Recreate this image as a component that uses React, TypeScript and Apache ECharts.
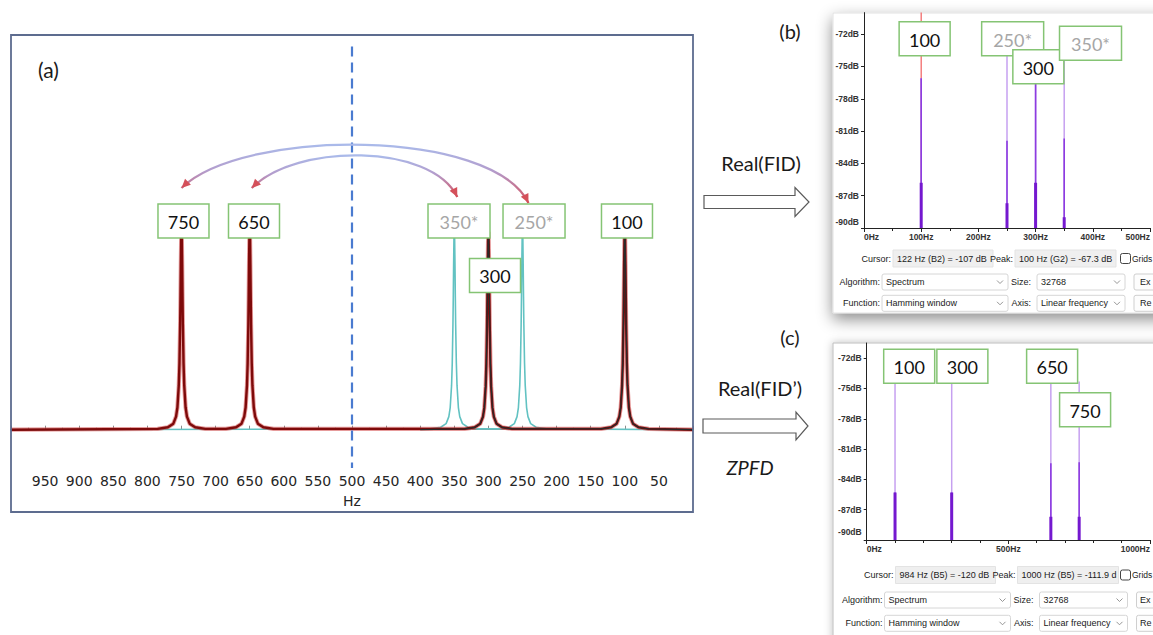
import React, { useEffect, useRef } from 'react';
import * as echarts from 'echarts';

// ---------------- Panel (a): simulated spectra ----------------
// Lorentzian-like line shape (offset in Hz, relative height)
const PROFILE_OFFSET_HZ = [-35, -20, -12, -8, -6, -4, -3, -2, -1.5, -1, -0.5, 0, 0.5, 1, 1.5, 2, 3, 4, 6, 8, 12, 20, 35];
const PROFILE_HEIGHT = [0.004, 0.012, 0.03, 0.065, 0.11, 0.22, 0.33, 0.52, 0.66, 0.82, 0.95, 1, 0.95, 0.82, 0.66, 0.52, 0.33, 0.22, 0.11, 0.065, 0.03, 0.012, 0.004];

const RED_PEAK_HZ = [100, 300, 650, 750];
const RED_PEAK_HEIGHT = [1.05, 1.033, 1.05, 1.05];
const BLACK_PEAK_HZ = [100, 300];
const BLACK_PEAK_HEIGHT = [1.05, 1.033];
const TEAL_PEAK_HZ = [250, 350];
const TEAL_PEAK_HEIGHT = [1.05, 1.05];
const CENTER_HZ = 500;

const A_LABEL_TEXT = ['750', '650', '350*', '250*', '100', '300'];
const A_LABEL_STAR = [false, false, true, true, false, false];
const FOLD_FROM_HZ = [250, 350];
const FOLD_TO_HZ = [750, 650];

// ---------------- Panel (b): spectrum of Real(FID) ----------------
const DB_TICKS = [-90, -87, -84, -81, -78, -75, -72];
const B_PEAK_HZ = [100, 250, 300, 350];
const B_LIGHT_TOP_DB = [-76.1, -73.5, -76.6, -73.5];
const B_DARK_TOP_DB = [-76.1, -81.9, -76.6, -81.7];
const B_THICK_TOP_DB = [-85.8, -87.7, -85.8, -89.0];
const B_CURSOR_HZ = 100;
const B_LABEL_TEXT = ['100', '250*', '300', '350*'];
const B_LABEL_STAR = [false, true, false, true];
const B_CURSOR_TEXT = '122 Hz (B2) = -107 dB';
const B_PEAK_TEXT = '100 Hz (G2) = -67.3 dB';

// ---------------- Panel (c): spectrum of Real(FID') ----------------
const C_PEAK_HZ = [100, 300, 650, 750];
const C_LIGHT_TOP_DB = [-74.3, -74.3, -74.3, -74.3];
const C_DARK_TOP_DB = [-85.3, -85.3, -82.4, -82.3];
const C_THICK_TOP_DB = [-85.3, -85.3, -87.7, -87.7];
const C_LABEL_TEXT = ['100', '300', '650', '750'];
const C_LABEL_STAR = [false, false, false, false];
const C_CURSOR_TEXT = '984 Hz (B5) = -120 dB';
const C_PEAK_TEXT = '1000 Hz (B5) = -111.9 dB';

// ---------------- layout (positions, not data) ----------------
const A_LABEL_POS = [[747.1, 1.089], [643.7, 1.089], [343.1, 1.089], [233.1, 1.089], [96.8, 1.089], [290.3, 0.805]];
const B_LABEL_POS = [[106, -72.43], [259.9, -72.43], [304.8, -75.03], [396, -72.85]];
const C_LABEL_POS = [[150, -72.81], [337.7, -72.81], [654.5, -72.81], [770.9, -77.11]];
const ARC_LAYOUT = [
  { toDx: 0, toY: 188, fromDx: 6, fromY: 203, c1: [62, 128], c2: [-36, 128] },
  { toDx: 2, toY: 188, fromDx: 3, fromY: 197, c1: [44, 143], c2: [-26, 143] },
];

const FONT_CAL = 'Lato, "Open Sans", sans-serif';
const FONT_A = '"DejaVu Sans", Verdana, sans-serif';
const FONT_UI = '"Liberation Sans", Arial, sans-serif';
const GREEN = '#85c474';

function buildSpectrum(centers: number[], heights: number[], from: number, to: number) {
  const pts: number[][] = [[from, 0]];
  const order = centers.map((_, i) => i).sort((a, b) => centers[a] - centers[b]);
  for (const i of order) {
    PROFILE_OFFSET_HZ.forEach((o, k) => pts.push([centers[i] + o, heights[i] * PROFILE_HEIGHT[k]]));
  }
  pts.push([to, 0]);
  return pts;
}

function spikeRender(params: any, api: any) {
  const f = api.value(0);
  const base = api.coord([f, -90]);
  const mk = (v: number, stroke: string, w: number) => {
    const p = api.coord([f, v]);
    return { type: 'line', shape: { x1: base[0], y1: base[1], x2: p[0], y2: p[1] }, style: { stroke, lineWidth: w } };
  };
  return {
    type: 'group',
    children: [mk(api.value(1), '#c6a0f0', 1.5), mk(api.value(2), '#8d3ce0', 1.6), mk(api.value(3), '#7418cf', 3)],
  };
}

function cursorRender(params: any, api: any) {
  const f = api.value(0);
  const a = api.coord([f, api.value(1)]);
  const b = api.coord([f, -90]);
  return { type: 'line', shape: { x1: a[0], y1: a[1], x2: b[0], y2: b[1] }, style: { stroke: '#f26b6b', lineWidth: 1.3 } };
}

const uiAxisText = { fontFamily: FONT_UI, fontSize: 8.5, fontWeight: 'bold' as const, color: '#333' };

function dbAxis(gridIndex: number, max: number, lift: number) {
  return {
    gridIndex,
    type: 'value',
    min: -90,
    max,
    axisLine: { show: true, lineStyle: { color: '#222', width: 1 } },
    axisTick: { show: true, length: 3, customValues: DB_TICKS, lineStyle: { color: '#222' } },
    splitLine: { show: false },
    axisLabel: {
      ...uiAxisText,
      margin: 5,
      customValues: DB_TICKS,
      formatter: (v: number) => (v === DB_TICKS[0] ? `{lift|${v}dB}` : `${v}dB`),
      rich: { lift: { ...uiAxisText, padding: [0, 0, lift, 0] } },
    },
  };
}

function hzAxis(gridIndex: number, max: number, interval: number, minorSplit: number) {
  return {
    gridIndex,
    type: 'value',
    min: 0,
    max,
    interval,
    axisLine: { show: true, lineStyle: { color: '#222', width: 1 } },
    axisTick: { show: true, length: 4, lineStyle: { color: '#222' } },
    minorTick: { show: true, splitNumber: minorSplit, length: 3, lineStyle: { color: '#222' } },
    splitLine: { show: false },
    axisLabel: {
      ...uiAxisText,
      margin: 4,
      formatter: (v: number) => `${v}Hz`,
      alignMinLabel: 'left',
      alignMaxLabel: 'right',
    },
  };
}

function buildOption() {
  const axisTextA = { fontFamily: FONT_A, fontSize: 14, color: '#262626' };
  return {
    animation: false,
    backgroundColor: '#ffffff',
    grid: [
      { left: 11, top: 35, width: 682, height: 433 },
      { left: 864, top: 12.6, width: 291.5, height: 215.4 },
      { left: 866.7, top: 343, width: 292, height: 197 },
    ],
    xAxis: [
      {
        gridIndex: 0,
        type: 'value',
        min: 0,
        max: 1000,
        interval: 50,
        inverse: true,
        axisLine: { show: true, lineStyle: { color: '#8c8c8c', width: 1.2 } },
        axisTick: { show: true, inside: true, length: 4, lineStyle: { color: '#8c8c8c' } },
        minorTick: { show: true, splitNumber: 2, length: 2, lineStyle: { color: '#9a9a9a' } },
        splitLine: { show: false },
        axisLabel: { ...axisTextA, margin: 6, showMinLabel: false, showMaxLabel: false },
        name: 'Hz',
        nameLocation: 'middle',
        nameGap: 26,
        nameTextStyle: axisTextA,
      },
      hzAxis(1, 500, 100, 2),
      hzAxis(2, 1000, 500, 5),
    ],
    yAxis: [
      { gridIndex: 0, type: 'value', min: -0.2, max: 2.06, show: false },
      dbAxis(1, -70, 12),
      dbAxis(2, -70.5, 16),
    ],
    series: [
      {
        name: 'original', type: 'line', xAxisIndex: 0, yAxisIndex: 0, showSymbol: false, symbol: 'none', silent: true,
        data: buildSpectrum(TEAL_PEAK_HZ, TEAL_PEAK_HEIGHT, 0, 1000),
        lineStyle: { color: '#62c2c2', width: 1.6 },
      },
      {
        name: 'glow', type: 'line', xAxisIndex: 0, yAxisIndex: 0, showSymbol: false, symbol: 'none', silent: true,
        data: buildSpectrum(RED_PEAK_HZ, RED_PEAK_HEIGHT, 0, 1000),
        lineStyle: { color: '#d24848', width: 4.2, opacity: 0.55 },
      },
      {
        name: 'folded', type: 'line', xAxisIndex: 0, yAxisIndex: 0, showSymbol: false, symbol: 'none', silent: true,
        data: buildSpectrum(RED_PEAK_HZ, RED_PEAK_HEIGHT, 0, 1000),
        lineStyle: { color: '#7e0a0a', width: 2.4 },
        markLine: {
          silent: true,
          symbol: ['none', 'none'],
          label: { show: false },
          lineStyle: { color: '#4a7bd0', width: 2.2, type: [10, 6] },
          data: [[{ coord: [CENTER_HZ, 2.0] }, { coord: [CENTER_HZ, -0.2] }]],
        },
      },
      {
        name: 'measured', type: 'line', xAxisIndex: 0, yAxisIndex: 0, showSymbol: false, symbol: 'none', silent: true,
        data: buildSpectrum(BLACK_PEAK_HZ, BLACK_PEAK_HEIGHT, 0, 400),
        lineStyle: { color: '#2a2a2a', width: 1.2 },
      },
      {
        name: 'cursorB', type: 'custom', xAxisIndex: 1, yAxisIndex: 1, silent: true, z: 1,
        renderItem: cursorRender,
        data: [[B_CURSOR_HZ, -70]],
      },
      {
        name: 'spikesB', type: 'custom', xAxisIndex: 1, yAxisIndex: 1, silent: true,
        renderItem: spikeRender,
        data: B_PEAK_HZ.map((f, i) => [f, B_LIGHT_TOP_DB[i], B_DARK_TOP_DB[i], B_THICK_TOP_DB[i]]),
      },
      {
        name: 'spikesC', type: 'custom', xAxisIndex: 2, yAxisIndex: 2, silent: true,
        renderItem: spikeRender,
        data: C_PEAK_HZ.map((f, i) => [f, C_LIGHT_TOP_DB[i], C_DARK_TOP_DB[i], C_THICK_TOP_DB[i]]),
      },
    ],
  };
}

function txt(text: string, x: number, y: number, o: any = {}) {
  return {
    type: 'text',
    z: o.z ?? 60,
    style: {
      text,
      x,
      y,
      fill: o.fill ?? '#1a1a1a',
      fontSize: o.size ?? 9,
      fontFamily: o.family ?? FONT_UI,
      fontWeight: o.weight ?? 'normal',
      fontStyle: o.style ?? 'normal',
      align: o.align ?? 'left',
      textAlign: o.align ?? 'left',
      verticalAlign: 'middle',
      textVerticalAlign: 'middle',
      ...(o.width ? { width: o.width, overflow: 'truncate', ellipsis: '' } : {}),
    },
  };
}

function labelBox(cx: number, cy: number, text: string, star: boolean) {
  const w = star ? 62 : 51;
  const h = 34;
  return [
    {
      type: 'rect', z: 50,
      shape: { x: cx - w / 2, y: cy - h / 2, width: w, height: h },
      style: { fill: '#ffffff', stroke: GREEN, lineWidth: 1.5 },
    },
    txt(text, cx, cy + 1, { size: 18, family: FONT_CAL, fill: star ? '#a6a6a6' : '#111', align: 'center', z: 51 }),
  ];
}

function chevron(x: number, y: number) {
  return {
    type: 'polyline', z: 60,
    shape: { points: [[x - 3, y - 1.5], [x, y + 1.5], [x + 3, y - 1.5]] },
    style: { stroke: '#8a8a8a', lineWidth: 0.9, fill: 'none' },
  };
}

function dropdown(x: number, y: number, w: number, text: string) {
  return [
    { type: 'rect', z: 55, shape: { x, y: y - 8, width: w, height: 16, r: 2 }, style: { fill: '#ffffff', stroke: '#d6d6d6', lineWidth: 1 } },
    txt(text, x + 4, y),
    chevron(x + w - 8, y),
  ];
}

function uiPanel(dx: number, rowCur: number, rowAlg: number, rowFn: number, cursorText: string, peakText: string) {
  const X = (v: number) => v + dx;
  return [
    txt('Cursor:', X(891), rowCur, { align: 'right' }),
    { type: 'rect', z: 55, shape: { x: X(893), y: rowCur - 8.5, width: 100, height: 17 }, style: { fill: '#efefef', stroke: '#e3e3e3', lineWidth: 1 } },
    txt(cursorText, X(897), rowCur, { width: 94 }),
    txt('Peak:', X(1013), rowCur, { align: 'right' }),
    { type: 'rect', z: 55, shape: { x: X(1015), y: rowCur - 8.5, width: 101, height: 17 }, style: { fill: '#efefef', stroke: '#e3e3e3', lineWidth: 1 } },
    txt(peakText, X(1019), rowCur, { width: 96 }),
    { type: 'rect', z: 55, shape: { x: 1120.5, y: rowCur - 5, width: 10, height: 10, r: 2 }, style: { fill: '#ffffff', stroke: '#444', lineWidth: 1 } },
    txt('Grids', 1132, rowCur, { size: 8.5 }),
    txt('Algorithm:', X(880), rowAlg, { align: 'right' }),
    ...dropdown(X(882), rowAlg, 126, 'Spectrum'),
    txt('Size:', X(1031), rowAlg, { align: 'right' }),
    ...dropdown(X(1037), rowAlg, 88, '32768'),
    { type: 'rect', z: 55, shape: { x: X(1134), y: rowAlg - 8, width: 50, height: 16, r: 2 }, style: { fill: '#fdfdfd', stroke: '#cfcfcf', lineWidth: 1 } },
    txt('Ex', 1140, rowAlg),
    txt('Function:', X(880), rowFn, { align: 'right' }),
    ...dropdown(X(882), rowFn, 126, 'Hamming window'),
    txt('Axis:', X(1031), rowFn, { align: 'right' }),
    ...dropdown(X(1037), rowFn, 88, 'Linear frequency'),
    { type: 'rect', z: 55, shape: { x: X(1134), y: rowFn - 8, width: 50, height: 16, r: 2 }, style: { fill: '#fdfdfd', stroke: '#cfcfcf', lineWidth: 1 } },
    txt('Re', 1140, rowFn),
  ];
}

function hollowArrow(x0: number, x1: number, xh: number, yc: number, shaftHalf: number, headHalf: number) {
  return {
    type: 'polygon', z: 50,
    shape: {
      points: [
        [x0, yc - shaftHalf], [xh, yc - shaftHalf], [xh, yc - headHalf], [x1, yc],
        [xh, yc + headHalf], [xh, yc + shaftHalf], [x0, yc + shaftHalf],
      ],
    },
    style: { fill: '#ffffff', stroke: '#5a5a5a', lineWidth: 1.2 },
  };
}

function buildGraphics(chart: any) {
  const px = (g: number, x: number, y: number) => chart.convertToPixel({ xAxisIndex: g, yAxisIndex: g }, [x, y]) as number[];
  const els: any[] = [];

  // windows of the spectrum-analyser screenshots
  els.push({
    type: 'rect', z: -1,
    shape: { x: 833, y: 13, width: 340, height: 300 },
    style: { fill: '#ffffff', stroke: '#dadada', lineWidth: 0.8, shadowBlur: 16, shadowColor: 'rgba(0,0,0,0.45)', shadowOffsetY: 6 },
  });
  els.push({
    type: 'rect', z: -1,
    shape: { x: 833, y: 343, width: 340, height: 310 },
    style: { fill: '#ffffff', stroke: '#bdbdbd', lineWidth: 1, shadowBlur: 8, shadowColor: 'rgba(0,0,0,0.25)', shadowOffsetY: 0 },
  });

  // frame of panel (a)
  els.push({
    type: 'rect', z: 40,
    shape: { x: 11, y: 35, width: 682, height: 477 },
    style: { fill: 'none', stroke: '#5d6c8f', lineWidth: 1.8 },
  });
  els.push(txt('(a)', 48.5, 69, { size: 21, family: FONT_CAL, align: 'center' }));

  // folding arrows
  FOLD_TO_HZ.forEach((toHz, i) => {
    const L = ARC_LAYOUT[i];
    const p0 = [px(0, toHz, 0)[0] + L.toDx, L.toY];
    const p3 = [px(0, FOLD_FROM_HZ[i], 0)[0] + L.fromDx, L.fromY];
    const p1 = [p0[0] + L.c1[0], L.c1[1]];
    const p2 = [p3[0] + L.c2[0], L.c2[1]];
    els.push({
      type: 'bezierCurve', z: 45,
      shape: { x1: p0[0], y1: p0[1], cpx1: p1[0], cpy1: p1[1], cpx2: p2[0], cpy2: p2[1], x2: p3[0], y2: p3[1] },
      style: {
        fill: 'none',
        lineWidth: 2.3,
        stroke: new echarts.graphic.LinearGradient(0, 0, 0, 1, [
          { offset: 0, color: '#aabaea' },
          { offset: 0.45, color: '#b39ccc' },
          { offset: 1, color: '#d5505c' },
        ]),
      },
    });
    const head = (tip: number[], from: number[]) => {
      const dx = tip[0] - from[0];
      const dy = tip[1] - from[1];
      const len = Math.hypot(dx, dy);
      const ux = dx / len;
      const uy = dy / len;
      const bx = tip[0] - ux * 9;
      const by = tip[1] - uy * 9;
      return {
        type: 'polygon', z: 46,
        shape: { points: [[tip[0], tip[1]], [bx - uy * 4.2, by + ux * 4.2], [bx + uy * 4.2, by - ux * 4.2]] },
        style: { fill: '#d4505a' },
      };
    };
    els.push(head(p0, p1));
    els.push(head(p3, p2));
  });

  // label boxes
  A_LABEL_TEXT.forEach((t, i) => {
    const c = px(0, A_LABEL_POS[i][0], A_LABEL_POS[i][1]);
    els.push(...labelBox(c[0], c[1], t, A_LABEL_STAR[i]));
  });
  B_LABEL_TEXT.forEach((t, i) => {
    const c = px(1, B_LABEL_POS[i][0], B_LABEL_POS[i][1]);
    els.push(...labelBox(c[0], c[1], t, B_LABEL_STAR[i]));
  });
  C_LABEL_TEXT.forEach((t, i) => {
    const c = px(2, C_LABEL_POS[i][0], C_LABEL_POS[i][1]);
    els.push(...labelBox(c[0], c[1], t, C_LABEL_STAR[i]));
  });

  // middle column: transforms
  els.push(txt('(b)', 790, 31, { size: 20, family: FONT_CAL, align: 'center' }));
  els.push(txt('Real(FID)', 761, 163, { size: 20, family: FONT_CAL, align: 'center' }));
  els.push(hollowArrow(704, 809, 795, 202, 6.5, 14.5));
  els.push(txt('(c)', 790, 337, { size: 20, family: FONT_CAL, align: 'center' }));
  els.push(txt('Real(FID\u2019)', 760, 388, { size: 20, family: FONT_CAL, align: 'center' }));
  els.push(hollowArrow(703, 808, 796, 426, 7, 14));
  els.push(txt('ZPFD', 750, 467, { size: 20, family: FONT_CAL, style: 'italic', align: 'center' }));

  // analyser controls
  els.push(...uiPanel(0, 258.5, 282, 303.3, B_CURSOR_TEXT, B_PEAK_TEXT));
  els.push(...uiPanel(2.5, 575, 600, 623.3, C_CURSOR_TEXT, C_PEAK_TEXT));

  return els;
}

export default function App() {
  const ref = useRef<HTMLDivElement>(null);
  useEffect(() => {
    const chart = echarts.init(ref.current!, null, { renderer: 'svg' });
    chart.setOption(buildOption() as any);
    chart.setOption({ graphic: buildGraphics(chart) } as any);
    return () => chart.dispose();
  }, []);
  return (
    <div
      ref={ref}
      style={{ position: 'fixed', left: 0, top: 0, width: 1153, height: 635, background: '#ffffff' }}
    />
  );
}
